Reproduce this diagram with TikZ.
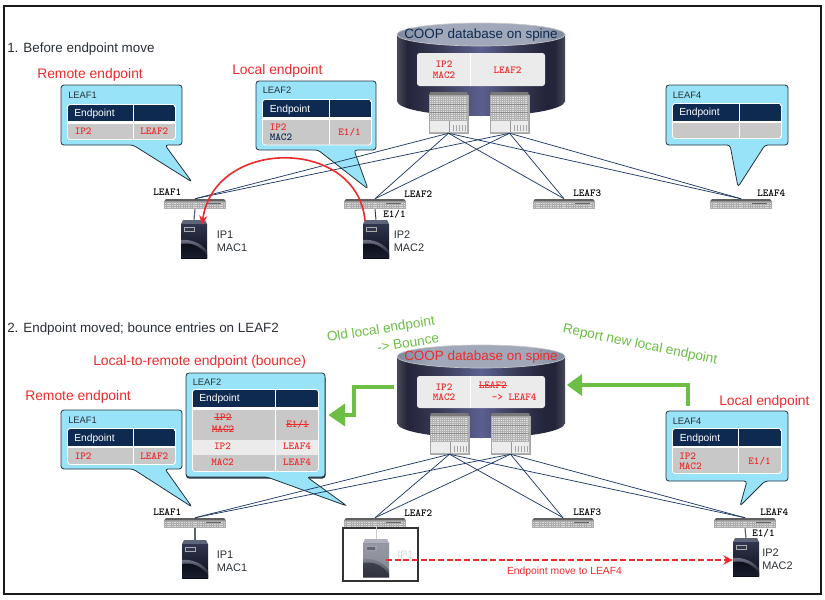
\documentclass[tikz,border=0pt]{standalone}
\usepackage{fontspec}
\setmainfont{Liberation Sans}
\usetikzlibrary{arrows.meta}
\definecolor{bub}{HTML}{98E3F8}
\definecolor{bubline}{HTML}{26333F}
\definecolor{navy}{HTML}{0F2A50}
\definecolor{rowgray}{HTML}{C8C8C8}
\definecolor{rowlight}{HTML}{EBEBEB}
\definecolor{redtxt}{HTML}{EE2A2A}
\definecolor{grn}{HTML}{6CBE45}
\definecolor{fabric}{HTML}{1F3A64}
\definecolor{inktxt}{HTML}{2B3138}
\definecolor{cA}{HTML}{474A5A}
\definecolor{cB}{HTML}{24253A}
\definecolor{cC}{HTML}{3A3C58}
\definecolor{cD}{HTML}{5C6090}
\definecolor{tA}{HTML}{7E889E}
\definecolor{tB}{HTML}{A0A8BA}
\definecolor{srvtop}{HTML}{5F6579}
\definecolor{srvA}{HTML}{30364F}
\definecolor{srvB}{HTML}{0B0D18}
\definecolor{srvC}{HTML}{72768A}
\pgfdeclarehorizontalshading{cylshade}{100bp}{color(0bp)=(cA);color(25bp)=(cA);color(28bp)=(cB);color(38bp)=(cC);color(50bp)=(cD);color(60bp)=(cC);color(69bp)=(cB);color(72bp)=(cB);color(75bp)=(cA);color(100bp)=(cA)}
\pgfdeclarehorizontalshading{cyltop}{100bp}{color(0bp)=(tA);color(25bp)=(tA);color(35bp)=(tB);color(50bp)=(tB);color(65bp)=(tB);color(75bp)=(tA);color(100bp)=(tA)}
\tikzset{
  x=0.75pt,y=-0.75pt,
  bubble/.style={fill=bub,draw=bubline,line width=0.6pt,rounded corners=2.2pt},
  leafbox/.style={minimum width=46.5pt,minimum height=7.5pt,inner sep=0pt,draw=none},
  spinebox/.style={minimum width=29.25pt,minimum height=30.75pt,inner sep=0pt,draw=none},
  fab/.style={draw=fabric,line width=0.55pt},
  tt/.style={font=\ttfamily\bfseries\fontsize{8}{8}\selectfont,inner sep=0pt},
  redtt/.style={tt,text=redtxt},
  navytt/.style={tt,text=navy},
  lbl/.style={font=\fontsize{7}{7}\selectfont,inner sep=0pt,anchor=west,text=inktxt},
  hdr/.style={font=\fontsize{7.7}{7.7}\selectfont,inner sep=0pt,anchor=west,text=white},
  redhead/.style={font=\fontsize{10.4}{10.4}\selectfont,inner sep=0pt,anchor=west,text=redtxt},
  secthead/.style={font=\fontsize{10.05}{10.05}\selectfont,inner sep=0pt,anchor=west,text=inktxt},
  coop/.style={font=\fontsize{10.1}{10.1}\selectfont,inner sep=0pt},
  hostlbl/.style={font=\fontsize{8.2}{9.8}\selectfont,inner sep=0pt,anchor=west,align=left,text=inktxt},
  greentxt/.style={font=\fontsize{10.2}{10.2}\selectfont,inner sep=0pt,text=grn},
  gline/.style={draw=grn,line width=2.4pt},
  ghead/.style={fill=grn},
  strike/.style={draw=redtxt,line width=0.55pt},
  redarrow/.style={draw=redtxt,line width=1.2pt,-{Stealth[length=7pt,width=6pt]}}
}
% name, left, top
\newcommand\leafsw[3]{%
  \begin{scope}[shift={(#2,#3)}]
    \node[leafbox] (#1) at (31,5) {};
    \fill[gray!75!black] (2,0) -- (60,0) -- (62,2.5) -- (0,2.5) -- cycle;
    \fill[gray!65] (0,2.5) rectangle (62,10);
    \foreach \yy in {4.2,6.2,8.2}
      \draw[gray!30,line width=0.35pt,dash pattern=on 0.8pt off 0.5pt] (1,\yy) -- (61,\yy);
    \fill[gray!80!black] (42,3.6) rectangle (57,5.4);
  \end{scope}}
% name, left, top
\newcommand\spinesw[3]{%
  \begin{scope}[shift={(#2,#3)}]
    \node[spinebox] (#1) at (19.5,20.5) {};
    \fill[gray!95!black] (1,0) -- (38,0) -- (39,3) -- (0,3) -- cycle;
    \fill[gray!60] (0,3) rectangle (39,41);
    \foreach \yy in {5,7,...,27}
      \draw[gray!25,line width=0.3pt,dash pattern=on 0.7pt off 0.7pt] (1,\yy) -- (38,\yy);
    \foreach \yy in {12,20}
      \draw[gray!90,line width=0.4pt] (1,\yy) -- (38,\yy);
    \fill[gray!15] (1,28.5) rectangle (38,40);
    \draw[gray!80,line width=0.4pt] (20,28.5) -- (20,40);
    \foreach \xx in {24,27,...,36}
      \draw[gray!70,line width=0.4pt] (\xx,33) -- (\xx,39);
    \draw[gray!70,line width=0.5pt] (0,3) rectangle (39,41);
  \end{scope}}
% name, left, top, opacity
\newcommand\hostbox[4]{%
  \begin{scope}[shift={(#2,#3)},opacity=#4]
    \node[minimum width=19.5pt,minimum height=28.5pt,inner sep=0pt] (#1) at (13,19) {};
    \fill[srvtop] (2,0) -- (24,0) -- (26,4) -- (0,4) -- cycle;
    \shade[top color=srvA,bottom color=srvB] (0,4) rectangle (26,38);
    \shade[top color=srvC,bottom color=srvB] (0,20) .. controls (10,19) and (20,23) .. (26,31) -- (26,38) -- (0,38) -- cycle;
    \shade[top color=srvB,bottom color=srvB!60!srvA] (0,24) .. controls (10,22) and (19,26) .. (26,35) -- (26,38) -- (0,38) -- cycle;
    \draw[gray!65,line width=0.55pt] (3,7) rectangle (13,11.5);
    \fill[srvA] (4,8) rectangle (12,10.5);
  \end{scope}}
% table frame: x1,y1,x2,y2,divider,header bottom; rows = list y1/y2/colour
\newcommand\etable[7]{%
  \fill[white,rounded corners=2pt] (#1-0.8,#2-0.8) rectangle (#3+0.8,#4+0.8);
  \begin{scope}
    \clip[rounded corners=1.8pt] (#1,#2) rectangle (#3,#4);
    \fill[navy] (#1,#2) rectangle (#3,#6);
    \foreach \ya/\yb/\cc in {#7} \fill[\cc] (#1,\ya) rectangle (#3,\yb);
    \draw[white,line width=0.6pt] (#5,#2) -- (#5,#4);
  \end{scope}}
\begin{document}
\begin{tikzpicture}
\useasboundingbox (0,0) rectangle (825,600);
\fill[white] (0,0) rectangle (825,600);
\draw[black!90,line width=1.6pt] (4,6) rectangle (821,594);

% ---------- section headings
\node[secthead] (h1) at (7,49.5) {1. Before endpoint move};
\node[secthead] (h2) at (7,329) {2. Endpoint moved; bounce entries on LEAF2};

% ---------- upper COOP cylinder
\shade[shading=cylshade] (397,34.5) rectangle (565,101);
\shade[shading=cylshade] (481,101) ellipse [x radius=84,y radius=15];
\shade[shading=cyltop,draw=gray!45,line width=0.5pt] (481,34.5) ellipse [x radius=84,y radius=11.5];
\node[coop,text=navy] (coopA) at (481,35) {COOP database on spine};
\fill[rowlight,rounded corners=2pt] (417,53) rectangle (545,86);
\draw[white,line width=0.6pt] (470.5,53) -- (470.5,86);
\node[redtt] (cA1) at (444,64.5) {IP2};
\node[redtt] (cA2) at (444,75) {MAC2};
\node[redtt] (cA3) at (507.5,70) {LEAF2};
\spinesw{s1}{429}{92}
\spinesw{s2}{490}{92}

% ---------- upper call-outs
\draw[bubble] (61,85) -- (182,85) -- (182,145) -- (165,145) -- (192,182) -- (133,145) -- (61,145) -- cycle;
\node[lbl] (b1t) at (68,95.5) {LEAF1};
\etable{68}{105}{175}{139}{133.5}{121}{124/139/rowgray}
\node[hdr] (b1h) at (74,113.5) {Endpoint};
\node[redtt,anchor=west] (b1a) at (74.5,131) {IP2};
\node[redtt,anchor=west] (b1b) at (140,131) {LEAF2};

\draw[bubble] (256,81) -- (376,81) -- (376,150) -- (354,150) -- (368,189) -- (318,150) -- (256,150) -- cycle;
\node[lbl] (b2t) at (262.5,90.5) {LEAF2};
\etable{263}{100}{371}{144.5}{329}{117}{119.5/144.5/rowgray}
\node[hdr] (b2h) at (269.5,109.5) {Endpoint};
\node[redtt,anchor=west] (b2a) at (269.5,127) {IP2};
\node[navytt,anchor=west] (b2b) at (269.5,137) {MAC2};
\node[redtt] (b2c) at (349.5,132) {E1/1};

\draw[bubble] (666,85) -- (788,85) -- (788,145) -- (765,145) -- (738,187) -- (730,145) -- (666,145) -- cycle;
\node[lbl] (b4t) at (672.5,95.5) {LEAF4};
\etable{673}{104}{781}{138}{739}{120.5}{123/138/rowgray}
\node[hdr] (b4h) at (679,113) {Endpoint};

% ---------- upper leaves and hosts
\leafsw{l1}{164}{199}
\leafsw{l2}{344}{199}
\leafsw{l3}{533}{199}
\leafsw{l4}{710}{199}
\foreach \s in {s1,s2} \foreach \l in {l1,l2,l3,l4} \draw[fab] (\s.south) -- (\l.north);
\node[tt,anchor=west] (t1) at (153,192) {LEAF1};
\node[tt,anchor=west] (t2) at (404,194.5) {LEAF2};
\node[tt,anchor=west] (t3) at (573,193) {LEAF3};
\node[tt,anchor=west] (t4) at (757,193) {LEAF4};
\hostbox{h11}{181}{220}{1}
\hostbox{h12}{363}{220}{1}
\draw[gray!60!fabric,line width=0.9pt] (l1.south) -- (h11.north);
\draw[fabric,line width=0.7pt] (l2.south) -- (h12.north);
\node[tt,anchor=west] (e1) at (383,214) {E1/1};
\node[hostlbl] (ip11) at (216.5,241) {IP1\\MAC1};
\node[hostlbl] (ip12) at (393.5,241) {IP2\\MAC2};
\coordinate (arcA) at (365,221);
\coordinate (arcB) at (202,225);
\draw[redarrow] (arcA) .. controls (358,137) and (214,137) .. (arcB);
\node[redhead] (r1) at (37,74.5) {Remote endpoint};
\node[redhead] (r2) at (232,71) {Local endpoint};

% ---------- lower COOP cylinder
\shade[shading=cylshade] (397,356.5) rectangle (565,423);
\shade[shading=cylshade] (481,423) ellipse [x radius=84,y radius=15];
\shade[shading=cyltop,draw=gray!45,line width=0.5pt] (481,356.5) ellipse [x radius=84,y radius=11.5];
\node[coop,text=redtxt] (coopB) at (481,357) {COOP database on spine};
\fill[rowlight,rounded corners=2pt] (417,376) rectangle (545,408);
\draw[white,line width=0.6pt] (470.5,376) -- (470.5,408);
\node[redtt] (cB1) at (444,387) {IP2};
\node[redtt] (cB2) at (444,397) {MAC2};
\node[redtt,anchor=west] (cB3) at (478.5,385) {LEAF2};
\draw[strike] (cB3.west) -- (cB3.east);
\node[redtt,anchor=west] (cB4) at (491.5,397) {-> LEAF4};
\spinesw{s3}{430}{413}
\spinesw{s4}{491}{413}

% ---------- lower call-outs
\draw[bubble] (61,410) -- (182,410) -- (182,469) -- (165,469) -- (192,507) -- (133,469) -- (61,469) -- cycle;
\node[lbl] (b5t) at (68,420.5) {LEAF1};
\etable{68}{429}{175}{464}{133.5}{446}{448/464/rowgray}
\node[hdr] (b5h) at (74,438.5) {Endpoint};
\node[redtt,anchor=west] (b5a) at (74.5,456) {IP2};
\node[redtt,anchor=west] (b5b) at (140,456) {LEAF2};

\fill[bubline,rounded corners=2.2pt] (186,375) rectangle (325.5,478.5);
\draw[bubble] (186,373) -- (325,373) -- (325,477) -- (307,477) -- (347,506) -- (267,477) -- (186,477) -- cycle;
\node[lbl] (b6t) at (192.5,382.5) {LEAF2};
\etable{193}{390}{318}{471}{275.5}{407}{409.5/439.5/rowgray,440/454.5/rowlight,455/471/rowgray}
\node[hdr] (b6h) at (199,399) {Endpoint};
\node[redtt] (b6a) at (223,417) {IP2};
\draw[strike] (b6a.west) -- (b6a.east);
\node[redtt] (b6b) at (223,429) {MAC2};
\draw[strike] (b6b.west) -- (b6b.east);
\node[redtt] (b6c) at (297.5,424) {E1/1};
\draw[strike] (b6c.west) -- (b6c.east);
\node[redtt] (b6d) at (222.5,446.5) {IP2};
\node[redtt] (b6e) at (297,446.5) {LEAF4};
\node[redtt] (b6f) at (222.5,462) {MAC2};
\node[redtt] (b6g) at (297,462) {LEAF4};

\draw[bubble] (666,411) -- (788,411) -- (788,481) -- (765,481) -- (740,506) -- (747,481) -- (666,481) -- cycle;
\node[lbl] (b7t) at (672.5,421) {LEAF4};
\etable{673}{429}{781}{473}{738.5}{445.5}{448/473/rowgray}
\node[hdr] (b7h) at (679.5,438.5) {Endpoint};
\node[redtt,anchor=west] (b7a) at (679,456) {IP2};
\node[redtt,anchor=west] (b7b) at (679,466) {MAC2};
\node[redtt] (b7c) at (759.5,461) {E1/1};

% ---------- lower leaves and hosts
\leafsw{l5}{164}{518}
\leafsw{l6}{344}{518}
\leafsw{l7}{532}{518}
\leafsw{l8}{714}{518}
\foreach \s in {s3,s4} \foreach \l in {l5,l6,l7,l8} \draw[fab] (\s.south) -- (\l.north);
\node[tt,anchor=west] (t5) at (153,512) {LEAF1};
\node[tt,anchor=west] (t6) at (404,513.5) {LEAF2};
\node[tt,anchor=west] (t7) at (573,512) {LEAF3};
\node[tt,anchor=west] (t8) at (760,512) {LEAF4};
\node[minimum width=56.25pt,minimum height=39.75pt,inner sep=0pt,draw=black!80,line width=1.3pt,fill=white] (frm) at (380.5,554.5) {};
\hostbox{h21}{182}{540}{1}
\hostbox{h22}{363}{539}{0.5}
\hostbox{h23}{733}{538}{1}
\draw[gray!60!fabric,line width=0.9pt] (l5.south) -- (h21.north);
\draw[gray!40,line width=0.7pt] (frm.north -| h22.north) -- (h22.north);
\draw[gray!60!fabric,line width=0.9pt] (l8.south) -- (h23.north);
\node[tt,anchor=west] (e2) at (752,533.5) {E1/1};
\node[hostlbl,text=gray!30] (ip21) at (397,554.5) {IP1};
\node[hostlbl] (ip22) at (216.5,561) {IP1\\MAC1};
\node[hostlbl] (ip23) at (762,559.5) {IP2\\MAC2};
\coordinate (mvA) at (386,560);
\draw[draw=redtxt,line width=1.1pt,dash pattern=on 4.5pt off 2pt,-{Stealth[length=7pt,width=7pt]}] (mvA) -- (h23.west |- mvA);
\node[font=\fontsize{7.75}{7.75}\selectfont,inner sep=0pt,text=redtxt] (mvT) at (564.5,572) {Endpoint move to LEAF4};

% ---------- red and green annotations
\node[redhead] (r3) at (25,397) {Remote endpoint};
\node[redhead] (r4) at (93,362) {Local-to-remote endpoint (bounce)};
\node[redhead] (r5) at (719,402) {Local endpoint};
\node[greentxt,rotate=9] (g1) at (381,330) {Old local endpoint};
\node[greentxt,rotate=9] (g2) at (408,343) {-> Bounce};
\node[greentxt,rotate=-11.5] (g3) at (640,345) {Report new local endpoint};
\coordinate (ga0) at (394,387);
\coordinate (ga1) at (354,387);
\coordinate (ga2) at (354,415);
\coordinate (ga3) at (343,415);
\draw[gline] (ga0) -- (ga1) -- (ga2) -- (ga3);
\fill[ghead] (328.5,415) -- (345,403.5) -- (345,426.5) -- cycle;
\coordinate (gb0) at (688,406);
\coordinate (gb1) at (688,385);
\coordinate (gb2) at (580,385);
\draw[gline] (gb0) -- (gb1) -- (gb2);
\fill[ghead] (567,385) -- (582,374) -- (582,396) -- cycle;
\end{tikzpicture}
\end{document}
